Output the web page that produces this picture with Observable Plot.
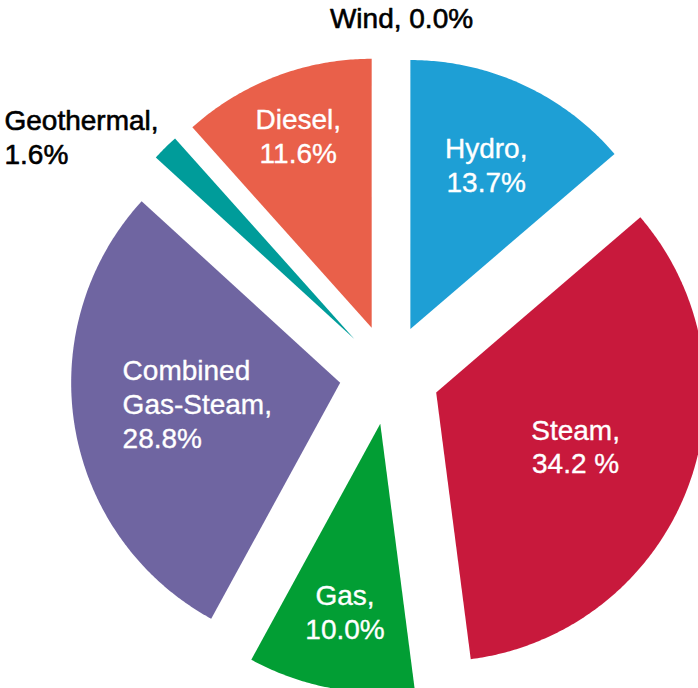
<!DOCTYPE html>
<html>
<head>
<meta charset="utf-8">
<script src="https://cdn.jsdelivr.net/npm/d3@7"></script>
<script src="https://cdn.jsdelivr.net/npm/@observablehq/plot@0.6"></script>
<style>
  html, body { margin: 0; padding: 0; background: #fff; overflow: hidden; }
</style>
</head>
<body>
<div id="chart"></div>
<script>
// ---- data ----
const sources = ["Wind", "Hydro", "Steam", "Gas", "Combined Gas-Steam", "Geothermal", "Diesel"];
const shares = [0.0, 13.7, 34.2, 10.0, 28.8, 1.6, 11.6];
const labelTexts = ["Wind, 0.0%", "Hydro,\n13.7%", "Steam,\n34.2 %", "Gas,\n10.0%", "Combined\nGas-Steam,\n28.8%", "Geothermal,\n1.6%", "Diesel,\n11.6%"];
const colors = ["#8c8c8c", "#1e9fd5", "#c8193c", "#029e34", "#6f65a1", "#009c9a", "#e9604a"];

// ---- layout / style ----
const W = 698, H = 688;
const CX = 389, CY = 374;          // pie centre in pixels
const R = 269, EXPLODE = 50;        // radius and explode distance
const labelRadius = {"Hydro": 0.675, "Steam": 0.555, "Gas": 0.71, "Diesel": 0.765, "Combined Gas-Steam": 0.82};
const insideStart = new Set(["Combined Gas-Steam"]);
const FONT = "'Liberation Sans', Arial, Helvetica, sans-serif";

const table = sources.map((s, i) => ({source: s, share: shares[i], label: labelTexts[i]}));
const arcs = d3.pie().sort(null).value(d => d.share)(table);

// slice outlines (apex + sampled arc), exploded along the bisector
const pts = [];
const labels = [];
for (const a of arcs) {
  const mid = (a.startAngle + a.endAngle) / 2;
  const ox = EXPLODE * Math.sin(mid), oy = EXPLODE * Math.cos(mid);
  const src = a.data.source;
  if (a.value > 0) {
    pts.push({source: src, x: ox, y: oy});
    const n = Math.max(2, Math.ceil((a.endAngle - a.startAngle) / (Math.PI / 360)));
    for (let k = 0; k <= n; k++) {
      const t = a.startAngle + (a.endAngle - a.startAngle) * k / n;
      pts.push({source: src, x: ox + R * Math.sin(t), y: oy + R * Math.cos(t)});
    }
  }
  if (labelRadius[src] != null) {
    const lr = labelRadius[src] * R;
    labels.push({source: src, label: a.data.label, x: ox + lr * Math.sin(mid), y: oy + lr * Math.cos(mid)});
  }
}
const windLabel = table.filter(d => d.source === "Wind");
const geoLabel = table.filter(d => d.source === "Geothermal");

const chart = Plot.plot({
  width: W,
  height: H,
  margin: 0,
  x: {domain: [-CX, W - CX], axis: null},
  y: {domain: [CY - H, CY], axis: null},
  color: {domain: sources, range: colors},
  style: {fontFamily: FONT, background: "white"},
  marks: [
    Plot.line(pts, {x: "x", y: "y", z: "source", fill: "source", stroke: "none", curve: "linear-closed", clip: true}),
    Plot.text(labels.filter(d => !insideStart.has(d.source)), {
      x: "x", y: "y", text: "label", fill: "white", stroke: "white", strokeWidth: 0.35,
      fontSize: 28, lineHeight: 1.2, textAnchor: "middle"
    }),
    Plot.text(labels.filter(d => insideStart.has(d.source)), {
      x: "x", y: "y", text: "label", fill: "white", stroke: "white", strokeWidth: 0.35,
      fontSize: 28, lineHeight: 1.22, textAnchor: "start", dy: -16
    }),
    Plot.text(windLabel, {
      text: "label", frameAnchor: "top", fill: "black", stroke: "black", strokeWidth: 0.6,
      fontSize: 28, dx: 52, dy: 8
    }),
    Plot.text(geoLabel, {
      text: "label", frameAnchor: "top-left", textAnchor: "start", fill: "black", stroke: "black", strokeWidth: 0.6,
      fontSize: 28, lineHeight: 1.2, dx: 4, dy: 106
    })
  ]
});
document.getElementById("chart").appendChild(chart);
</script>
</body>
</html>
